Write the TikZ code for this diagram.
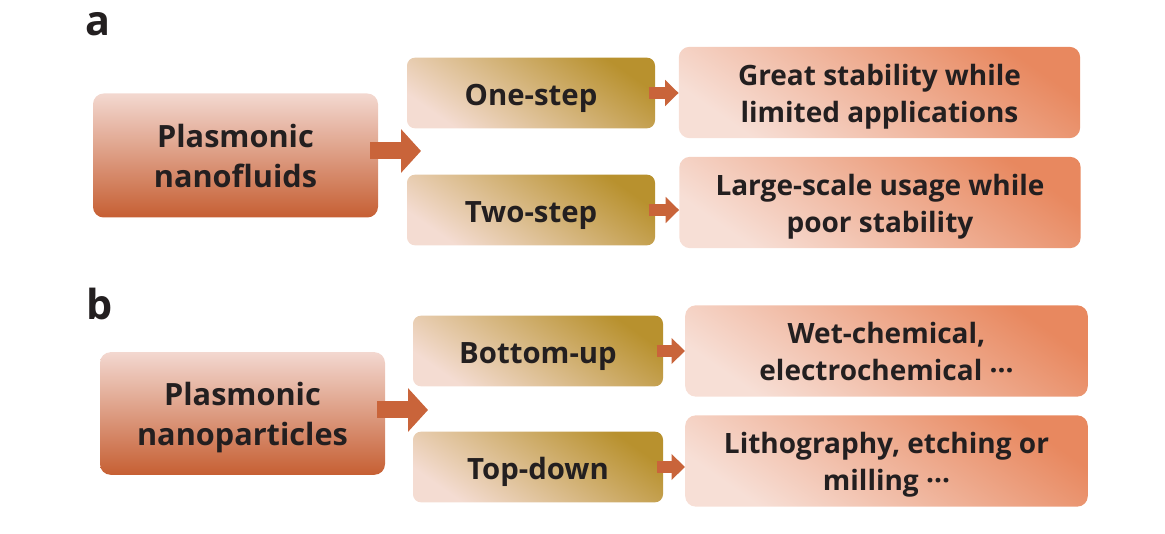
\documentclass[tikz,border=0pt]{standalone}
\usepackage{fontspec}
\setmainfont{Open Sans}
\usetikzlibrary{positioning, arrows.meta}

\definecolor{txtdark}{HTML}{231F20}
\definecolor{srctop}{HTML}{F3D8D0}
\definecolor{srcbot}{HTML}{C65F33}
\definecolor{goldtop}{HTML}{B8912E}
\definecolor{goldlow}{HTML}{F4DCD2}
\definecolor{peachtop}{HTML}{E8885F}
\definecolor{peachlow}{HTML}{F7DFD6}
\definecolor{arrowcol}{HTML}{C9643A}

\begin{document}
\begin{tikzpicture}[x=0.75pt, y=-0.75pt,
    boxtext/.style={text=txtdark, align=center},
    srcbox/.style={rectangle, rounded corners=8pt, boxtext, font=\bfseries\fontsize{23}{30}\selectfont, text height=48.5pt, text depth=0pt, top color=srctop, bottom color=srcbot, minimum width=213.75pt, minimum height=93pt},
    methodbox/.style={rectangle, rounded corners=6pt, boxtext, font=\bfseries\fontsize{22}{28}\selectfont, text height=19pt, text depth=0pt, top color=goldtop, bottom color=goldlow, shading angle=-35, minimum width=186pt, minimum height=53pt},
    resultbox/.style={rectangle, rounded corners=8pt, boxtext, font=\bfseries\fontsize{21}{27.75}\selectfont, text height=44.5pt, text depth=0pt, top color=peachtop, bottom color=peachlow, shading angle=-35, minimum width=301pt, minimum height=68.5pt},
    bigarrow/.style={arrowcol, line width=12.75pt, -{Triangle[length=15pt, width=32pt]}},
    smallarrow/.style={arrowcol, line width=8.5pt, -{Triangle[length=10pt, width=19pt]}},
    panellabel/.style={text=txtdark, font=\bfseries\fontsize{31}{31}\selectfont}]
\useasboundingbox (0,0) rectangle (1165,534);

% panel a
\node[panellabel] (labela) at (98,24) {a};
\node[srcbox] (nanofluids) at (235.5,155.5) {Plasmonic\\nanofluids};
\node[methodbox] (onestep) at (531,93) {One-step};
\node[methodbox] (twostep) at (531,210) {Two-step};
\node[resultbox] (stability) at (879.5,92.5) {Great stability while\\limited applications};
\node[resultbox] (largescale) at (880,202.5) {Large-scale usage while\\poor stability};
\coordinate (splita) at (421,151);

\draw[bigarrow] ([xshift=-6pt]nanofluids.east |- splita) -- (splita);
\draw[smallarrow] ([xshift=-5pt]onestep.east) -- (stability.west |- onestep.east);
\draw[smallarrow] ([xshift=-5pt]twostep.east) -- (largescale.west |- twostep.east);

% panel b
\node[panellabel] (labelb) at (100,304) {b};
\node[srcbox, minimum height=92pt] (nanoparticles) at (242.5,413.5) {Plasmonic\\nanoparticles};
\node[methodbox, minimum width=187.5pt] (bottomup) at (538,351) {Bottom-up};
\node[methodbox, minimum width=187.5pt] (topdown) at (538,467) {Top-down};
\node[resultbox, minimum width=302pt] (wetchem) at (886.5,351) {Wet-chemical,\\electrochemical ···};
\node[resultbox, minimum width=302pt] (litho) at (886.5,461) {Lithography, etching or\\milling ···};
\coordinate (splitb) at (428,410);

\draw[bigarrow] ([xshift=-6pt]nanoparticles.east |- splitb) -- (splitb);
\draw[smallarrow] ([xshift=-5pt]bottomup.east) -- (wetchem.west |- bottomup.east);
\draw[smallarrow] ([xshift=-5pt]topdown.east) -- (litho.west |- topdown.east);
\end{tikzpicture}
\end{document}
